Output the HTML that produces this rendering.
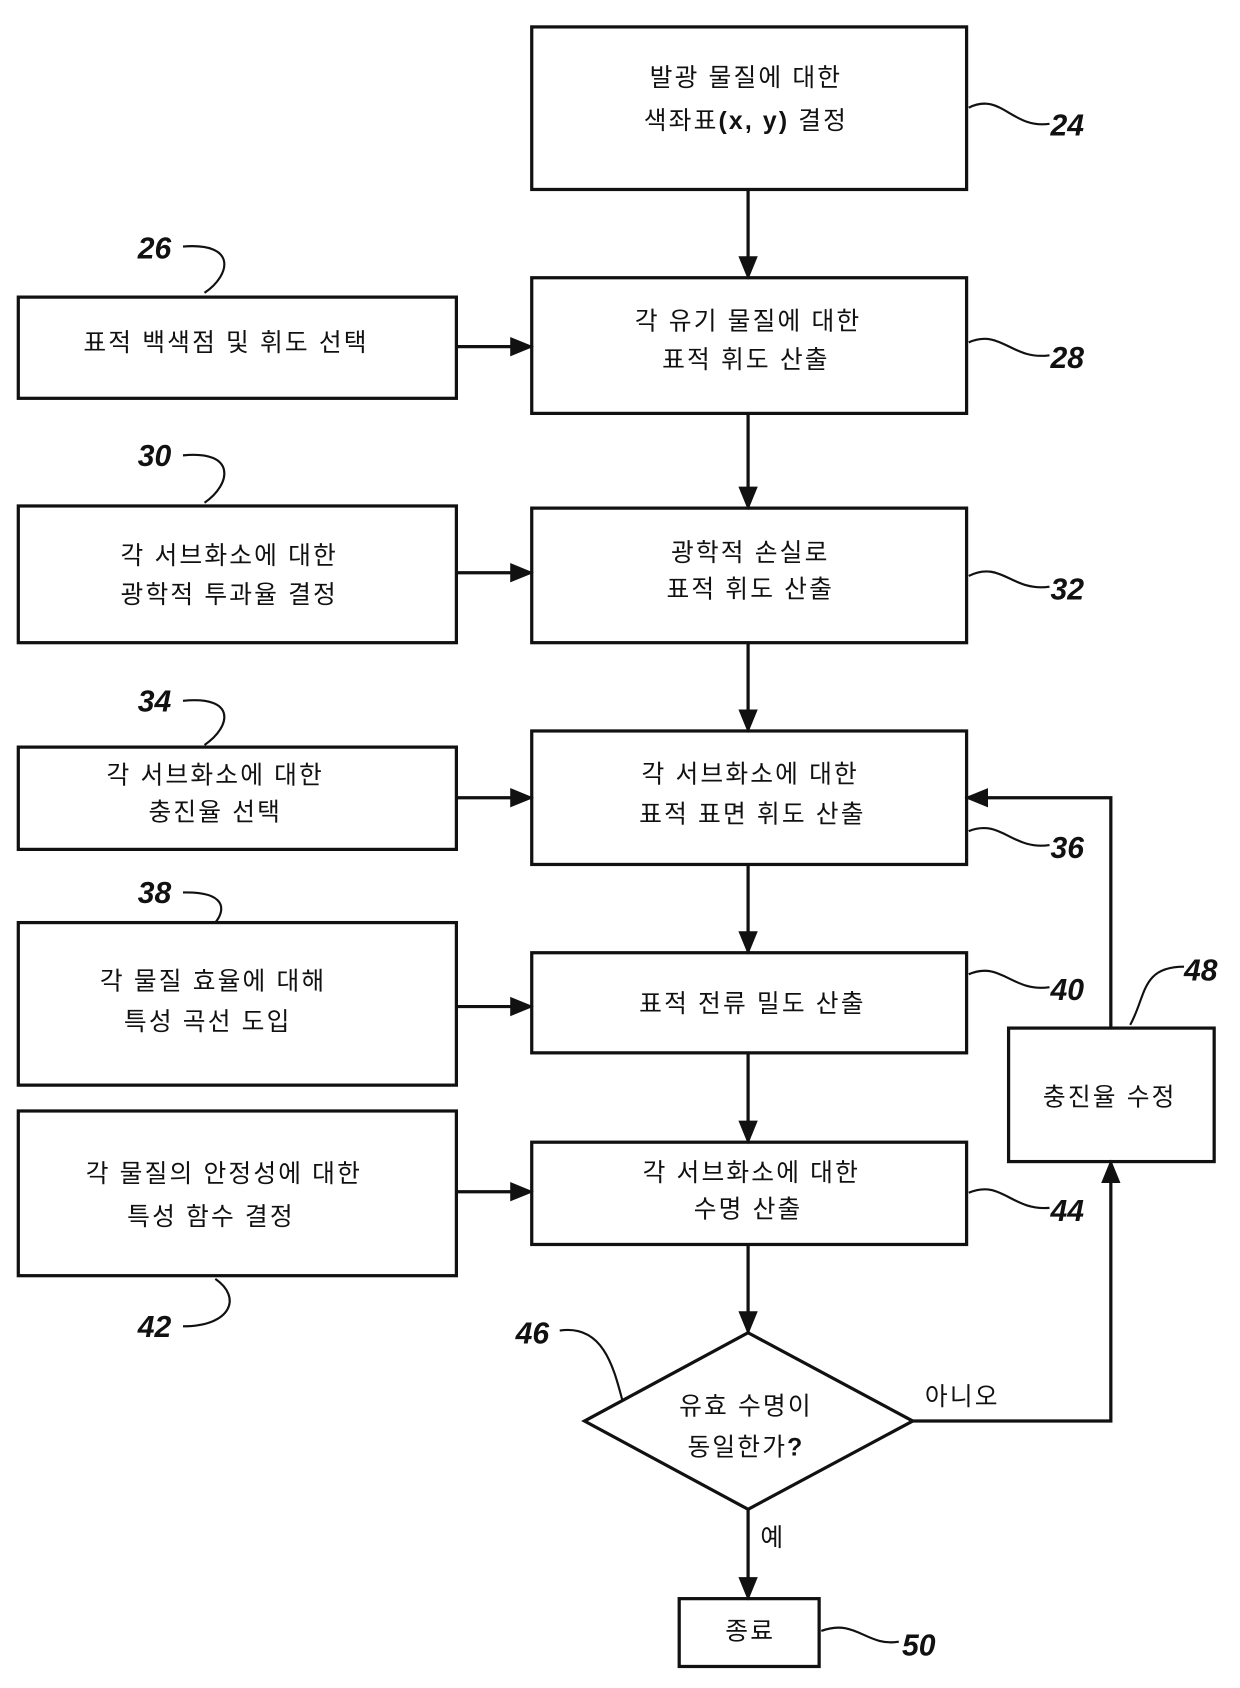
<!DOCTYPE html>
<html><head><meta charset="utf-8"><style>
html,body{margin:0;padding:0;background:#fff;}
svg{display:block}
text{font-family:"Liberation Sans","Noto Sans CJK KR",sans-serif;fill:#111;}
.t{font-size:23px;text-anchor:middle;letter-spacing:2px}
.n{font-size:28px;font-weight:bold;font-style:italic}
</style></head><body>
<svg width="1240" height="1688" viewBox="0 0 1152 1568" preserveAspectRatio="none" xmlns="http://www.w3.org/2000/svg">
<defs>
<marker id="b" markerWidth="22" markerHeight="22" refX="20" refY="11" orient="auto" markerUnits="userSpaceOnUse" viewBox="0 0 22 22"><path d="M0,2 L22,11 L0,20 z" fill="#111"/></marker></defs>
<g fill="none" stroke="#111" stroke-width="3">
<rect x="494" y="25" width="404" height="151"/>
<rect x="494" y="258" width="404" height="126"/>
<rect x="17" y="276" width="407" height="94"/>
<rect x="17" y="470" width="407" height="127"/>
<rect x="494" y="472" width="404" height="125"/>
<rect x="17" y="694" width="407" height="95"/>
<rect x="494" y="679" width="404" height="124"/>
<rect x="17" y="857" width="407" height="151"/>
<rect x="494" y="885" width="404" height="93"/>
<rect x="17" y="1032" width="407" height="153"/>
<rect x="494" y="1061" width="404" height="95"/>
<rect x="937" y="955" width="191" height="124"/>
<polygon points="695,1238 848,1320 695,1402 543,1320"/>
<rect x="631" y="1485" width="130" height="63"/>
<g marker-end="url(#b)">
<line x1="695" y1="176" x2="695" y2="258"/>
<line x1="695" y1="384" x2="695" y2="472"/>
<line x1="695" y1="597" x2="695" y2="679"/>
<line x1="695" y1="803" x2="695" y2="885"/>
<line x1="695" y1="978" x2="695" y2="1061"/>
<line x1="695" y1="1156" x2="695" y2="1238"/>
<line x1="695" y1="1402" x2="695" y2="1485"/>
<line x1="424" y1="322" x2="494" y2="322"/>
<line x1="424" y1="532" x2="494" y2="532"/>
<line x1="424" y1="741" x2="494" y2="741"/>
<line x1="424" y1="935" x2="494" y2="935"/>
<line x1="424" y1="1107" x2="494" y2="1107"/>
<polyline points="848,1320 1032,1320 1032,1079"/>
<polyline points="1032,955 1032,741 898,741"/>
</g>
<g stroke-width="2">
<path d="M900,100 C930,85 940,120 975,115"/>
<path d="M900,318 C930,305 940,335 975,330"/>
<path d="M900,535 C930,520 940,550 975,545"/>
<path d="M900,772 C930,760 940,790 975,785"/>
<path d="M900,905 C930,892 940,922 975,917"/>
<path d="M900,1108 C930,1095 940,1125 975,1122"/>
<path d="M763,1515 C795,1503 805,1530 835,1525"/>
<path d="M170,229 C220,225 215,255 190,272"/>
<path d="M170,423 C220,418 215,450 190,467"/>
<path d="M170,651 C220,646 215,675 190,692"/>
<path d="M170,829 C210,828 210,845 200,857"/>
<path d="M200,1188 C225,1205 215,1232 170,1232"/>
<path d="M520,1236 C560,1230 570,1270 578,1300"/>
<path d="M1050,952 C1065,925 1060,898 1100,898"/>
</g>
</g>
<text class="t" x="693" y="80">발광 물질에 대한</text>
<text class="t" x="693" y="120">색좌표<tspan font-weight="bold">(x, y)</tspan> 결정</text>
<text class="t" x="695" y="306">각 유기 물질에 대한</text>
<text class="t" x="693" y="342">표적 휘도 산출</text>
<text class="t" x="210" y="326">표적 백색점 및 휘도 선택</text>
<text class="t" x="213" y="524">각 서브화소에 대한</text>
<text class="t" x="213" y="560">광학적 투과율 결정</text>
<text class="t" x="697" y="521">광학적 손실로</text>
<text class="t" x="697" y="555">표적 휘도 산출</text>
<text class="t" x="200" y="728">각 서브화소에 대한</text>
<text class="t" x="200" y="762">충진율 선택</text>
<text class="t" x="697" y="727">각 서브화소에 대한</text>
<text class="t" x="699" y="764">표적 표면 휘도 산출</text>
<text class="t" x="198" y="919">각 물질 효율에 대해</text>
<text class="t" x="193" y="957">특성 곡선 도입</text>
<text class="t" x="699" y="940">표적 전류 밀도 산출</text>
<text class="t" x="208" y="1098">각 물질의 안정성에 대한</text>
<text class="t" x="196" y="1138">특성 함수 결정</text>
<text class="t" x="698" y="1097">각 서브화소에 대한</text>
<text class="t" x="695" y="1131">수명 산출</text>
<text class="t" x="1031" y="1027">충진율 수정</text>
<text class="t" x="693" y="1314">유효 수명이</text>
<text class="t" x="693" y="1352">동일한가<tspan font-weight="bold">?</tspan></text>
<text class="t" x="894" y="1305">아니오</text>
<text class="t" x="718" y="1436">예</text>
<text class="t" x="697" y="1523">종료</text>
<text class="n" x="976" y="126">24</text>
<text class="n" x="976" y="342">28</text>
<text class="n" x="976" y="557">32</text>
<text class="n" x="976" y="797">36</text>
<text class="n" x="976" y="929">40</text>
<text class="n" x="976" y="1134">44</text>
<text class="n" x="1100" y="911">48</text>
<text class="n" x="838" y="1538">50</text>
<text class="n" x="128" y="240">26</text>
<text class="n" x="128" y="433">30</text>
<text class="n" x="128" y="661">34</text>
<text class="n" x="128" y="839">38</text>
<text class="n" x="128" y="1242">42</text>
<text class="n" x="479" y="1248">46</text>
</svg>
</body></html>
